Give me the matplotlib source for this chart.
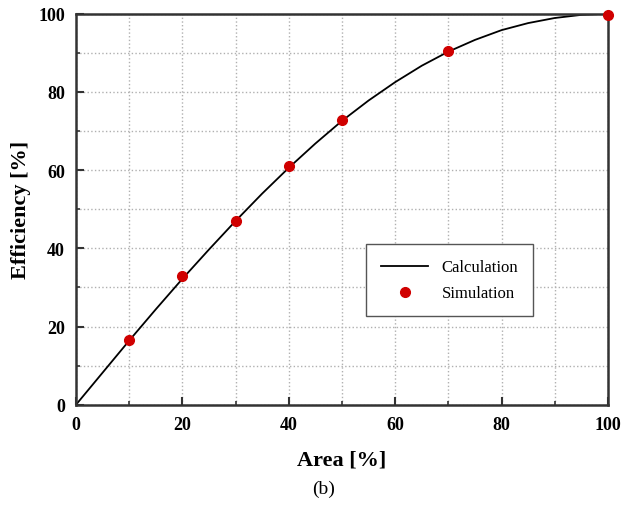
import matplotlib
matplotlib.use("Agg")
import matplotlib.pyplot as plt
from matplotlib.ticker import MultipleLocator

# calculated curve
calc_area = [0, 5, 10, 15, 20, 25, 30, 35, 40, 45, 50,
             55, 60, 65, 70, 75, 80, 85, 90, 95, 100]
calc_eff = [0, 8.2, 16.4, 24.4, 32.2, 39.7, 47.0, 54.0, 60.6, 66.8, 72.6,
            77.8, 82.5, 86.7, 90.3, 93.3, 95.8, 97.6, 98.9, 99.7, 100]

# simulation points
sim_area = [10, 20, 30, 40, 50, 70, 100]
sim_eff = [16.5, 33.0, 47.0, 61.1, 72.7, 90.4, 99.6]

x_ticks = [0, 20, 40, 60, 80, 100]
y_ticks = [0, 20, 40, 60, 80, 100]

serif = "Liberation Serif"

fig = plt.figure(figsize=(6.22, 5.10), dpi=100)
ax = fig.add_axes([0.1222, 0.2045, 0.8553, 0.7667])

ax.plot(calc_area, calc_eff, color="black", lw=1.3, label="Calculation")
ax.plot(sim_area, sim_eff, "o", color="#d00000", ms=7, label="Simulation",
        clip_on=False, zorder=5)

ax.set_xlim(0, 100)
ax.set_ylim(0, 100)
ax.set_xticks(x_ticks)
ax.set_yticks(y_ticks)
ax.xaxis.set_minor_locator(MultipleLocator(10))
ax.yaxis.set_minor_locator(MultipleLocator(10))
ax.tick_params(which="both", direction="in", top=False, right=False, color="#333333")
ax.tick_params(which="major", length=6, width=1.5, pad=8)
ax.tick_params(which="minor", length=3, width=1.2)
for lab in ax.get_xticklabels() + ax.get_yticklabels():
    lab.set_fontfamily(serif)
    lab.set_fontweight("bold")
    lab.set_fontsize(13)

ax.grid(which="both", color="#b0b0b0", linestyle=":", linewidth=1)
ax.set_axisbelow(True)
for s in ax.spines.values():
    s.set_linewidth(1.8)
    s.set_color("#333333")

ax.set_xlabel("Area [%]", fontfamily=serif, fontweight="bold", fontsize=16, labelpad=12)
ax.set_ylabel("Efficiency [%]", fontfamily=serif, fontweight="bold", fontsize=16, labelpad=5)

leg = ax.legend(loc="upper left", bbox_to_anchor=(0.546, 0.41), fancybox=False,
                prop={"family": serif, "size": 12}, handlelength=2.8,
                borderpad=0.9, labelspacing=0.6, framealpha=1, borderaxespad=0)
leg.get_frame().set_edgecolor("#555555")
leg.get_frame().set_linewidth(1)

fig.text(0.521, 0.04, "(b)", fontfamily=serif, fontsize=14, ha="center", va="center")

fig.savefig("out.png", dpi=100)
